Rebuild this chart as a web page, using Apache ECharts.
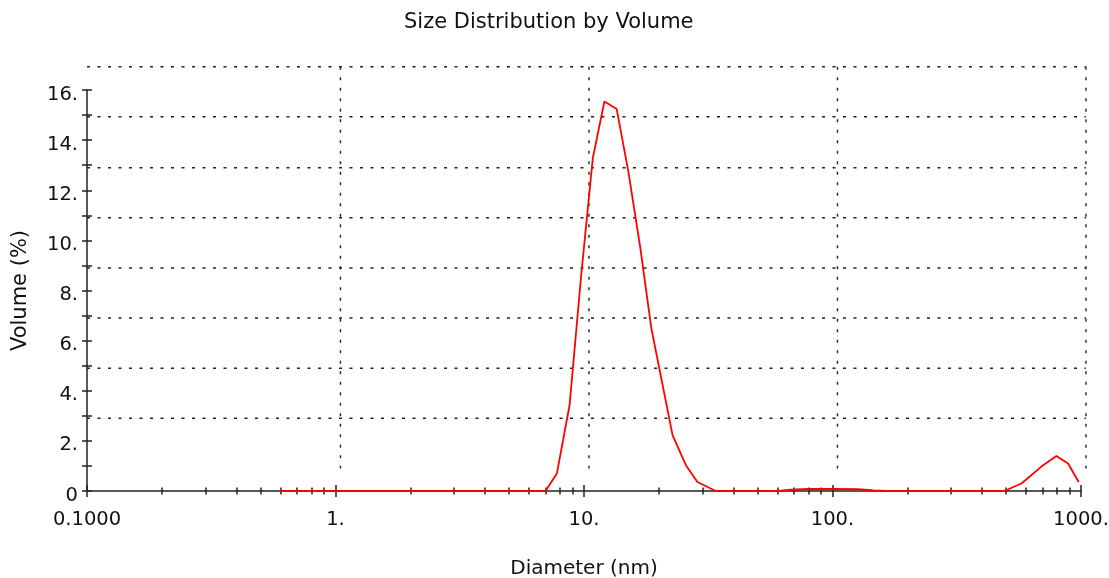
<!DOCTYPE html>
<html>
<head>
<meta charset="utf-8">
<script src="https://cdn.jsdelivr.net/npm/echarts@6/dist/echarts.min.js"></script>
<style>
  html, body { margin: 0; padding: 0; background: #fff; }
  #chart { width: 1109px; height: 578px; }
</style>
</head>
<body>
<div id="chart"></div>
<script>
// ---- data ----
const diameters = [0.6, 1, 2, 4, 7.0, 7.78, 8.75, 9.72, 10.85, 12.08, 13.54, 15.09, 16.85, 18.66, 20.65, 22.72, 25.7, 28.61, 33.9, 60.9, 68.0, 80.3, 101, 127, 146, 165, 491, 576, 704, 796, 887, 979];
const volumes   = [0,   0, 0, 0, 0,   0.70, 3.43, 8.50, 13.28, 15.54, 15.24, 12.73, 9.70, 6.50, 4.30, 2.23, 1.03, 0.36, 0,    0,    0.05, 0.08, 0.08, 0.07, 0.02, 0,  0,   0.30, 1.03, 1.40, 1.10, 0.36];

const xTickLabels = ['0.1000', '1.', '10.', '100.', '1000.'];          // decades 0.1 … 1000
const yTickLabels = ['0', '', '2.', '', '4.', '', '6.', '', '8.', '', '10.', '', '12.', '', '14.', '', '16.'];
const xMinorTicks = [0.2, 0.3, 0.4, 0.5, 0.6, 0.7, 0.8, 0.9,
                     2, 3, 4, 5, 6, 7, 8, 9,
                     20, 30, 40, 50, 60, 70, 80, 90,
                     200, 300, 400, 500, 600, 700, 800, 900];
const gridY = [2.9, 4.9, 6.9, 8.9, 10.9, 12.9, 14.93, 16.93];   // dotted horizontal lines
const gridX = [1.047, 10.47, 104.7, 1047];                       // dotted vertical lines
const gridXLeft = 0.1, gridXRight = 1047, gridYTop = 16.93, gridYBottom = 0.9;

const FONT = 'DejaVu Sans';
const TEXT = '#111';
const AX = '#222';
const DOT = { stroke: '#222', lineWidth: 1.4, lineDash: [3, 7.5] };

const chart = echarts.init(document.getElementById('chart'));

const logAxisBase = {
  type: 'log', logBase: 10, min: 0.1, max: 1000, gridIndex: 0, position: 'bottom',
  splitLine: { show: false }, minorTick: { show: false }, minorSplitLine: { show: false }
};
const valAxisBase = {
  type: 'value', min: 0, max: 16, interval: 1, gridIndex: 0, position: 'left',
  splitLine: { show: false }
};

function hLine(params, api) {
  const v = api.value(1);
  const p1 = api.coord([gridXLeft, v]);
  const p2 = api.coord([gridXRight, v]);
  return { type: 'line', shape: { x1: p1[0], y1: p1[1], x2: p2[0], y2: p2[1] }, style: DOT, silent: true };
}
function vLine(params, api) {
  const v = api.value(0);
  const p1 = api.coord([v, gridYTop]);
  const p2 = api.coord([v, gridYBottom]);
  return { type: 'line', shape: { x1: p1[0], y1: p1[1], x2: p2[0], y2: p2[1] }, style: DOT, silent: true };
}

chart.setOption({
  animation: false,
  backgroundColor: '#fff',
  title: {
    text: 'Size Distribution by Volume',
    left: 399, top: 7,
    textStyle: { fontFamily: FONT, fontSize: 21, fontWeight: 'normal', color: TEXT }
  },
  grid: { left: 87, right: 28, top: 90, bottom: 87, containLabel: false, outerBoundsMode: 'none' },
  xAxis: [
    Object.assign({}, logAxisBase, {
      name: 'Diameter (nm)', nameLocation: 'middle', nameGap: 68,
      nameTextStyle: { fontFamily: FONT, fontSize: 20, color: TEXT },
      axisLine: { show: true, onZero: true, lineStyle: { color: AX, width: 1.5 } },
      axisTick: { show: true, inside: false, length: 6, lineStyle: { color: AX, width: 1.5 } },
      axisLabel: {
        show: true, margin: 19, fontFamily: FONT, fontSize: 19.5, color: TEXT,
        formatter: v => xTickLabels[Math.round(Math.log10(v)) + 1] || ''
      }
    }),
    Object.assign({}, logAxisBase, {
      axisLine: { show: false },
      axisTick: { show: true, inside: true, length: 6, lineStyle: { color: AX, width: 1.5 } },
      axisLabel: { show: false }
    }),
    Object.assign({}, logAxisBase, {
      axisLine: { show: false },
      axisTick: { show: true, inside: false, length: 3.5, customValues: xMinorTicks, lineStyle: { color: AX, width: 1.5 } },
      axisLabel: { show: false }
    }),
    Object.assign({}, logAxisBase, {
      axisLine: { show: false },
      axisTick: { show: true, inside: true, length: 3.5, customValues: xMinorTicks, lineStyle: { color: AX, width: 1.5 } },
      axisLabel: { show: false }
    })
  ],
  yAxis: [
    Object.assign({}, valAxisBase, {
      name: 'Volume (%)', nameLocation: 'middle', nameGap: 56,
      nameTextStyle: { fontFamily: FONT, fontSize: 21, color: TEXT },
      axisLine: { show: true, lineStyle: { color: AX, width: 1.5 } },
      axisTick: { show: true, inside: false, length: 5, lineStyle: { color: AX, width: 1.5 } },
      axisLabel: {
        show: true, margin: 9, fontFamily: FONT, fontSize: 19.5, color: TEXT,
        verticalAlign: 'top', lineHeight: 9,
        formatter: v => yTickLabels[Math.round(v)] || ''
      }
    }),
    Object.assign({}, valAxisBase, {
      axisLine: { show: false },
      axisTick: { show: true, inside: true, length: 5, lineStyle: { color: AX, width: 1.5 } },
      axisLabel: { show: false }
    })
  ],
  series: [
    {
      type: 'custom', name: 'gridH', xAxisIndex: 0, yAxisIndex: 0, clip: false, silent: true, z: 1,
      renderItem: hLine,
      data: gridY.map(v => [gridXLeft, v])
    },
    {
      type: 'custom', name: 'gridV', xAxisIndex: 0, yAxisIndex: 0, clip: false, silent: true, z: 1,
      renderItem: vLine,
      data: gridX.map(v => [v, gridYTop])
    },
    {
      type: 'line', name: 'Volume',
      xAxisIndex: 0, yAxisIndex: 0,
      data: diameters.map((d, i) => [d, volumes[i]]),
      showSymbol: false, symbol: 'none',
      clip: false,
      lineStyle: { color: '#ff0000', width: 1.8 },
      z: 5
    }
  ]
});
</script>
</body>
</html>
